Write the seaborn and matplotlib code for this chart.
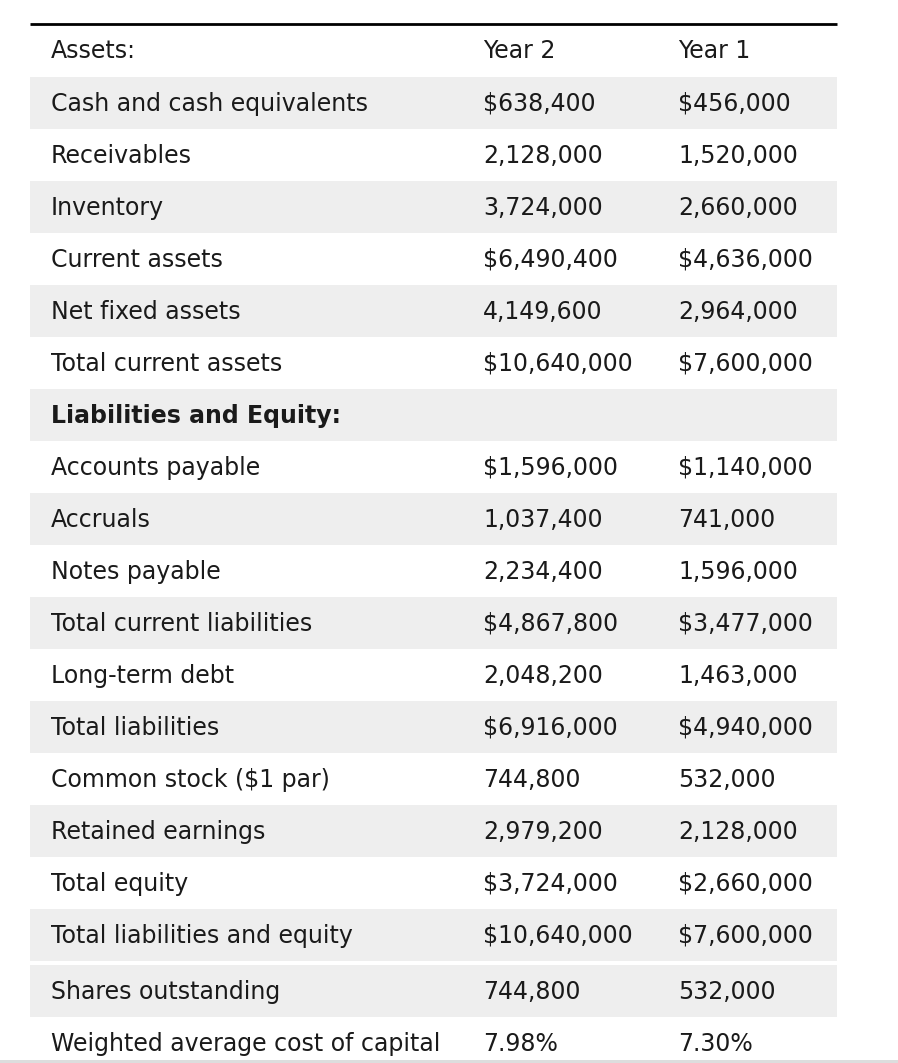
import matplotlib.pyplot as plt
import seaborn as sns

sns.set_theme(style="white")
plt.rcParams["font.family"] = ["DejaVu Sans"]

header = ["Assets:", "Year 2", "Year 1"]

labels = [
    "Cash and cash equivalents", "Receivables", "Inventory", "Current assets",
    "Net fixed assets", "Total current assets", "Liabilities and Equity:",
    "Accounts payable", "Accruals", "Notes payable", "Total current liabilities",
    "Long-term debt", "Total liabilities", "Common stock ($1 par)",
    "Retained earnings", "Total equity", "Total liabilities and equity",
    "Shares outstanding", "Weighted average cost of capital",
]
year2 = [
    "$638,400", "2,128,000", "3,724,000", "$6,490,400", "4,149,600", "$10,640,000", "",
    "$1,596,000", "1,037,400", "2,234,400", "$4,867,800", "2,048,200", "$6,916,000",
    "744,800", "2,979,200", "$3,724,000", "$10,640,000", "744,800", "7.98%",
]
year1 = [
    "$456,000", "1,520,000", "2,660,000", "$4,636,000", "2,964,000", "$7,600,000", "",
    "$1,140,000", "741,000", "1,596,000", "$3,477,000", "1,463,000", "$4,940,000",
    "532,000", "2,128,000", "$2,660,000", "$7,600,000", "532,000", "7.30%",
]
bold_rows = {"Liabilities and Equity:"}

W, H = 898, 1063
fig = plt.figure(figsize=(W / 100, H / 100), dpi=100)
ax = fig.add_axes([0, 0, 1, 1])
ax.set_xlim(0, W)
ax.set_ylim(H, 0)
ax.axis("off")

left, right = 30, 837
row_h = 52
col_x = [51, 483, 678]
fs = 17
txt_color = "#1a1a1a"

# top rule
ax.plot([left, right], [24, 24], color="black", lw=2, solid_capstyle="butt")

# header row
top = 25
for x, t in zip(col_x, header):
    ax.text(x, top + row_h / 2, t, fontsize=fs, va="center", ha="left", color=txt_color)

top += row_h
second = False
for i, (lab, v2, v1) in enumerate(zip(labels, year2, year1)):
    if lab == "Shares outstanding":
        top += 4  # second small table starts after a gap
        second = True
        start = i
    shaded = (i - start) % 2 == 0 if second else i % 2 == 0
    if shaded:
        ax.add_patch(plt.Rectangle((left, top), right - left, row_h, color="#eeeeee", lw=0))
    weight = "bold" if lab in bold_rows else "normal"
    for x, t in zip(col_x, [lab, v2, v1]):
        ax.text(x, top + row_h / 2 + 1, t, fontsize=fs, va="center", ha="left",
                fontweight=weight, color=txt_color)
    top += row_h

# bottom gray rule
ax.add_patch(plt.Rectangle((0, 1060), W, 3, color="#dddddd", lw=0))

fig.savefig("out.png", dpi=100)
